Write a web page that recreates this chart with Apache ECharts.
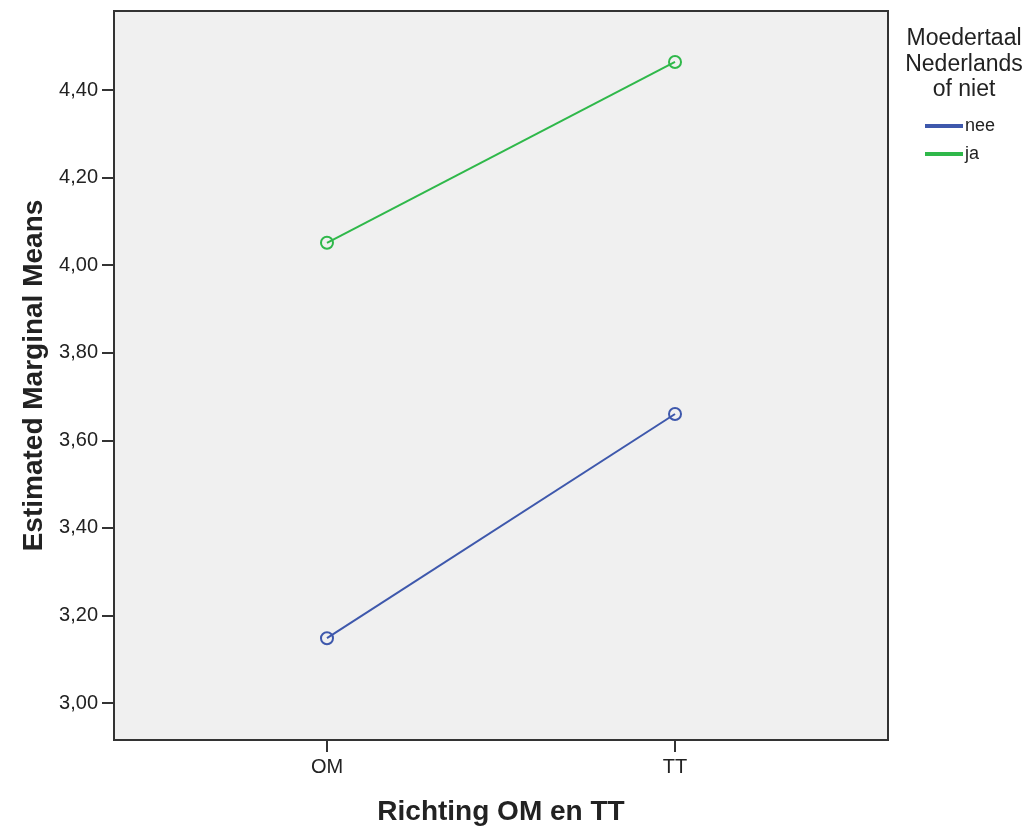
<!DOCTYPE html>
<html>
<head>
<meta charset="utf-8">
<script src="https://cdn.jsdelivr.net/npm/echarts@6/dist/echarts.min.js"></script>
<style>
  html, body { margin: 0; padding: 0; background: #ffffff; }
  #chart { width: 1032px; height: 833px; }
</style>
</head>
<body>
<div id="chart"></div>
<script>
// Profile plot: estimated marginal means per study direction, split by mother tongue
const categories = ['OM', 'TT'];
const seriesNames = ['nee', 'ja'];
const neeValues = [3.148, 3.660];
const jaValues = [4.051, 4.464];
const yTicks = [3.0, 3.2, 3.4, 3.6, 3.8, 4.0, 4.2, 4.4];
const colors = ['#3e58ac', '#2fb84a'];

const FONT = '"Liberation Sans", Arial, sans-serif';
const toPairs = vals => vals.map((v, i) => [i, v]);
const fmtComma = v => v.toFixed(2).replace('.', ',');

const chart = echarts.init(document.getElementById('chart'), null, { renderer: 'canvas' });

const makeSeries = (name, vals, color) => ({
  name: name,
  type: 'line',
  data: toPairs(vals),
  symbol: 'circle',
  symbolSize: 12,
  lineStyle: { color: color, width: 2 },
  itemStyle: { color: 'transparent', borderColor: color, borderWidth: 2 },
  emphasis: { disabled: true },
  z: 3
});

chart.setOption({
  animation: false,
  backgroundColor: '#ffffff',
  textStyle: { fontFamily: FONT },
  title: {
    text: 'Moedertaal\nNederlands\nof niet',
    left: 964,
    top: 26,
    padding: 0,
    textAlign: 'center',
    textStyle: { fontFamily: FONT, fontSize: 23, fontWeight: 'normal', color: '#222', lineHeight: 25.5 }
  },
  legend: {
    orient: 'vertical',
    left: 925,
    top: 116,
    padding: 0,
    itemWidth: 36,
    itemHeight: 2,
    itemGap: 8,
    icon: 'rect',
    selectedMode: false,
    textStyle: { fontFamily: FONT, fontSize: 18, color: '#222', lineHeight: 20, padding: [0, 0, 0, -2] },
    data: seriesNames.map((n, i) => ({ name: n, itemStyle: { color: colors[i] } }))
  },
  grid: {
    left: 114,
    right: 144,
    top: 11,
    bottom: 93,
    show: true,
    backgroundColor: '#f0f0f0',
    borderColor: '#333333',
    borderWidth: 2
  },
  xAxis: {
    type: 'value',
    min: -0.612,
    max: 1.612,
    name: 'Richting OM en TT',
    nameLocation: 'middle',
    nameGap: 58,
    nameTextStyle: { fontFamily: FONT, fontSize: 28, fontWeight: 'bold', color: '#222' },
    axisLine: { show: false, onZero: false },
    splitLine: { show: false },
    axisTick: { show: true, length: 12, lineStyle: { color: '#333', width: 2 }, customValues: categories.map((c, i) => i) },
    axisLabel: {
      fontFamily: FONT, fontSize: 20, color: '#222', margin: 17,
      customValues: categories.map((c, i) => i),
      formatter: v => categories[Math.round(v)]
    }
  },
  yAxis: {
    type: 'value',
    min: 2.9155,
    max: 4.5804,
    name: 'Estimated Marginal Means',
    nameLocation: 'middle',
    nameGap: 63,
    nameTextStyle: { fontFamily: FONT, fontSize: 28, fontWeight: 'bold', color: '#222' },
    axisLine: { show: false, onZero: false },
    splitLine: { show: false },
    axisTick: { show: true, length: 12, lineStyle: { color: '#333', width: 2 }, customValues: yTicks },
    axisLabel: {
      fontFamily: FONT, fontSize: 20, color: '#222', margin: 16,
      customValues: yTicks,
      formatter: v => fmtComma(v)
    }
  },
  series: [
    makeSeries(seriesNames[0], neeValues, colors[0]),
    makeSeries(seriesNames[1], jaValues, colors[1])
  ]
});
</script>
</body>
</html>
